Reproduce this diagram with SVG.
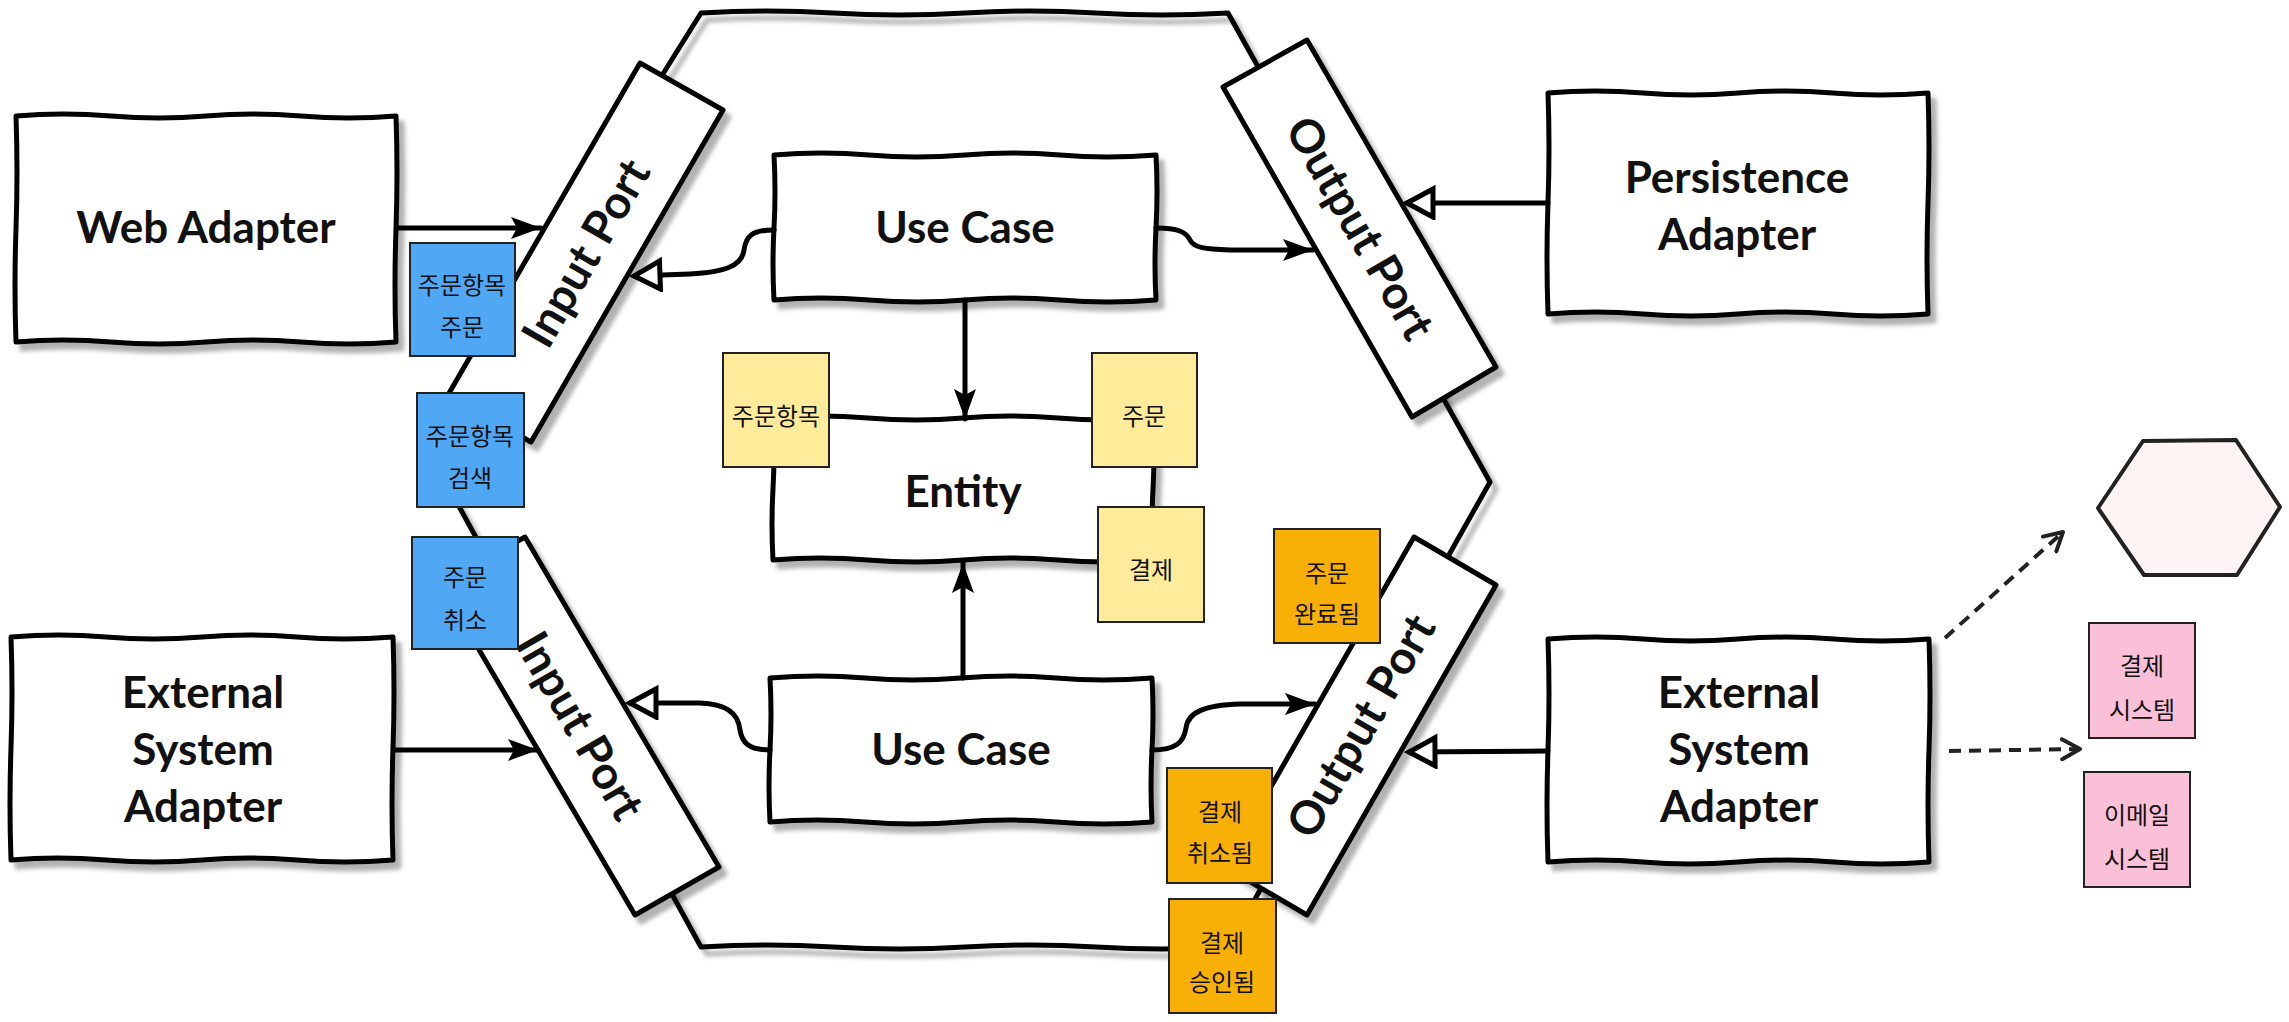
<svg xmlns="http://www.w3.org/2000/svg" width="2289" height="1022" viewBox="0 0 2289 1022">
<style>
.ln{fill:none;stroke:#000;stroke-width:5;stroke-linejoin:round;stroke-linecap:round}
.box{fill:#fff;stroke:#000;stroke-width:5;stroke-linejoin:round}
.lbl{font-family:Lato,"Open Sans","Noto Sans",sans-serif;font-weight:700;font-size:44px;fill:#111;text-anchor:middle}
.plbl{font-family:Lato,"Open Sans","Noto Sans",sans-serif;font-weight:700;font-size:46px;fill:#111;text-anchor:middle}
.st{font-family:"Noto Sans CJK KR",sans-serif;font-size:24px;fill:#111;text-anchor:middle;dominant-baseline:central}
.stk{stroke:#222;stroke-width:2}
.blue{fill:#50A8F5}
.yel{fill:#FFEB99}
.org{fill:#F9B006}
.pink{fill:#FAC0D8}
.dash{fill:none;stroke:#222;stroke-width:4;stroke-dasharray:12 8}
</style>
<defs>
<filter id="sh" x="-10%" y="-10%" width="130%" height="130%">
<feDropShadow dx="6" dy="7" stdDeviation="2" flood-color="#000" flood-opacity="0.3"/>
</filter>
<marker id="af" markerUnits="userSpaceOnUse" markerWidth="32" markerHeight="24" refX="30" refY="11" orient="auto">
<path d="M0,0 L30,11 L0,22 L6,11 Z" fill="#000"/>
</marker>
<marker id="ah" markerUnits="userSpaceOnUse" markerWidth="34" markerHeight="36" refX="29" refY="17" orient="auto">
<path d="M3,3 L29,17 L3,31 Z" fill="#fff" stroke="#000" stroke-width="5" stroke-linejoin="miter"/>
</marker>
<marker id="av" markerUnits="userSpaceOnUse" markerWidth="26" markerHeight="26" refX="20" refY="12" orient="auto">
<path d="M2,2 L20,12 L2,22" fill="none" stroke="#222" stroke-width="4" stroke-linecap="round" stroke-linejoin="round"/>
</marker>
</defs>
<rect width="2289" height="1022" fill="#fff"/>

<g id="hexagon">
<path class="ln" filter="url(#sh)" d="M701,13 Q767,9 833,13 T965,13 T1096,13 T1228,13 L1490,482 L1228,947 Q1162,951 1096,947 T965,947 T833,947 T701,947 L428,450 Z"/>
</g>

<g id="input-port-top">
<polygon class="box" filter="url(#sh)" points="640,63 723,110 531,442 448,395"/>
<text class="plbl" transform="translate(586,253) rotate(-60)" y="16">Input Port</text>
</g>
<g id="input-port-bottom">
<polygon class="box" filter="url(#sh)" points="525,537 719,867 635,915 441,585"/>
<text class="plbl" transform="translate(580,726) rotate(60)" y="16">Input Port</text>
</g>
<g id="output-port-top">
<polygon class="box" filter="url(#sh)" points="1223,87 1307,40 1496,367 1412,417"/>
<text class="plbl" transform="translate(1360,228) rotate(60)" y="16">Output Port</text>
</g>
<g id="output-port-bottom">
<polygon class="box" filter="url(#sh)" points="1414,537 1496,585 1307,915 1225,867"/>
<text class="plbl" transform="translate(1361,726) rotate(-60)" y="16">Output Port</text>
</g>

<g id="web-adapter">
<path class="box" filter="url(#sh)" d="M16,116 Q63,112 111,116 T206,116 T301,116 T396,116 Q398,172 396,229 T396,342 Q349,346 301,342 T206,342 T111,342 T16,342 Q14,286 16,229 T16,116 Z"/>
<text class="lbl" x="206" y="243">Web Adapter</text>
</g>
<g id="external-system-adapter-left">
<path class="box" filter="url(#sh)" d="M11,637 Q59,633 106,637 T202,637 T297,637 T393,637 Q395,693 393,748 T393,860 Q345,864 297,860 T202,860 T106,860 T11,860 Q9,804 11,748 T11,637 Z"/>
<text class="lbl" x="203" y="708">External</text>
<text class="lbl" x="203" y="765">System</text>
<text class="lbl" x="203" y="822">Adapter</text>
</g>
<g id="persistence-adapter">
<path class="box" filter="url(#sh)" d="M1548,93 Q1595,89 1643,93 T1738,93 T1833,93 T1928,93 Q1930,148 1928,203 T1928,314 Q1881,318 1833,314 T1738,314 T1643,314 T1548,314 Q1546,259 1548,203 T1548,93 Z"/>
<text class="lbl" x="1737" y="193">Persistence</text>
<text class="lbl" x="1737" y="250">Adapter</text>
</g>
<g id="external-system-adapter-right">
<path class="box" filter="url(#sh)" d="M1548,639 Q1596,635 1643,639 T1738,639 T1834,639 T1929,639 Q1931,695 1929,750 T1929,862 Q1881,866 1834,862 T1738,862 T1643,862 T1548,862 Q1546,806 1548,750 T1548,639 Z"/>
<text class="lbl" x="1739" y="708">External</text>
<text class="lbl" x="1739" y="765">System</text>
<text class="lbl" x="1739" y="822">Adapter</text>
</g>
<g id="use-case-top">
<path class="box" filter="url(#sh)" d="M774,155 Q822,151 869,155 T965,155 T1060,155 T1156,155 Q1158,191 1156,228 T1156,300 Q1108,304 1060,300 T965,300 T869,300 T774,300 Q772,264 774,228 T774,155 Z"/>
<text class="lbl" x="965" y="243">Use Case</text>
</g>
<g id="entity">
<path class="box" filter="url(#sh)" d="M773,418 Q820,414 868,418 T963,418 T1058,418 T1153,418 Q1155,453 1153,489 T1153,560 Q1106,564 1058,560 T963,560 T868,560 T773,560 Q771,524 773,489 T773,418 Z"/>
<text class="lbl" x="963" y="507">Entity</text>
</g>
<g id="use-case-bottom">
<path class="box" filter="url(#sh)" d="M770,678 Q818,674 865,678 T961,678 T1056,678 T1152,678 Q1154,714 1152,750 T1152,822 Q1104,826 1056,822 T961,822 T865,822 T770,822 Q768,786 770,750 T770,678 Z"/>
<text class="lbl" x="961" y="765">Use Case</text>
</g>

<g id="connectors">
<path class="ln" marker-end="url(#af)" d="M398,228 L541,228"/>
<path class="ln" marker-end="url(#af)" d="M395,750 L538,750"/>
<path class="ln" marker-end="url(#ah)" d="M774,230 C752,230 746,236 744,250 C742,266 725,272 690,274 L634,276"/>
<path class="ln" marker-end="url(#af)" d="M1156,228 C1178,228 1186,232 1190,240 C1194,248 1205,249 1230,250 L1313,250"/>
<path class="ln" marker-end="url(#ah)" d="M1548,203 L1407,203"/>
<path class="ln" marker-end="url(#af)" d="M965,300 L965,419"/>
<path class="ln" marker-end="url(#af)" d="M963,678 L963,563"/>
<path class="ln" marker-end="url(#ah)" d="M770,750 C748,750 742,742 740,730 C738,712 725,704 700,703 L630,703"/>
<path class="ln" marker-end="url(#af)" d="M1152,750 C1176,750 1184,742 1186,728 C1188,712 1205,705 1240,704 L1315,704"/>
<path class="ln" marker-end="url(#ah)" d="M1548,751 L1409,752"/>
<path class="dash" marker-end="url(#av)" d="M1945,638 L2063,532"/>
<path class="dash" marker-end="url(#av)" d="M1949,751 L2080,749"/>
</g>

<g id="sticky-order-item-order">
<rect class="blue stk" x="410" y="243" width="105" height="113"/>
<text class="st" x="462" y="283">주문항목</text>
<text class="st" x="462" y="325">주문</text>
</g>
<g id="sticky-order-item-search">
<rect class="blue stk" x="417" y="393" width="107" height="114"/>
<text class="st" x="470" y="434">주문항목</text>
<text class="st" x="470" y="476">검색</text>
</g>
<g id="sticky-order-cancel">
<rect class="blue stk" x="412" y="537" width="106" height="112"/>
<text class="st" x="465" y="575">주문</text>
<text class="st" x="465" y="618">취소</text>
</g>
<g id="sticky-order-item">
<rect class="yel stk" x="723" y="353" width="106" height="114"/>
<text class="st" x="776" y="414">주문항목</text>
</g>
<g id="sticky-order">
<rect class="yel stk" x="1092" y="353" width="105" height="114"/>
<text class="st" x="1144" y="414">주문</text>
</g>
<g id="sticky-payment">
<rect class="yel stk" x="1098" y="507" width="106" height="115"/>
<text class="st" x="1151" y="568">결제</text>
</g>
<g id="sticky-order-completed">
<rect class="org stk" x="1274" y="529" width="106" height="114"/>
<text class="st" x="1327" y="571">주문</text>
<text class="st" x="1327" y="612">완료됨</text>
</g>
<g id="sticky-payment-cancelled">
<rect class="org stk" x="1167" y="768" width="105" height="115"/>
<text class="st" x="1220" y="810">결제</text>
<text class="st" x="1220" y="851">취소됨</text>
</g>
<g id="sticky-payment-approved">
<rect class="org stk" x="1169" y="899" width="107" height="114"/>
<text class="st" x="1222" y="941">결제</text>
<text class="st" x="1222" y="980">승인됨</text>
</g>

<g id="external-hexagon">
<polygon points="2143,441 2236,440 2280,507 2237,575 2144,575 2098,508" fill="#FFF4F3" stroke="#222" stroke-width="4" stroke-linejoin="round"/>
</g>
<g id="sticky-payment-system">
<rect class="pink stk" x="2089" y="623" width="106" height="115"/>
<text class="st" x="2142" y="664">결제</text>
<text class="st" x="2142" y="708">시스템</text>
</g>
<g id="sticky-email-system">
<rect class="pink stk" x="2084" y="772" width="106" height="115"/>
<text class="st" x="2137" y="813">이메일</text>
<text class="st" x="2137" y="857">시스템</text>
</g>
</svg>
